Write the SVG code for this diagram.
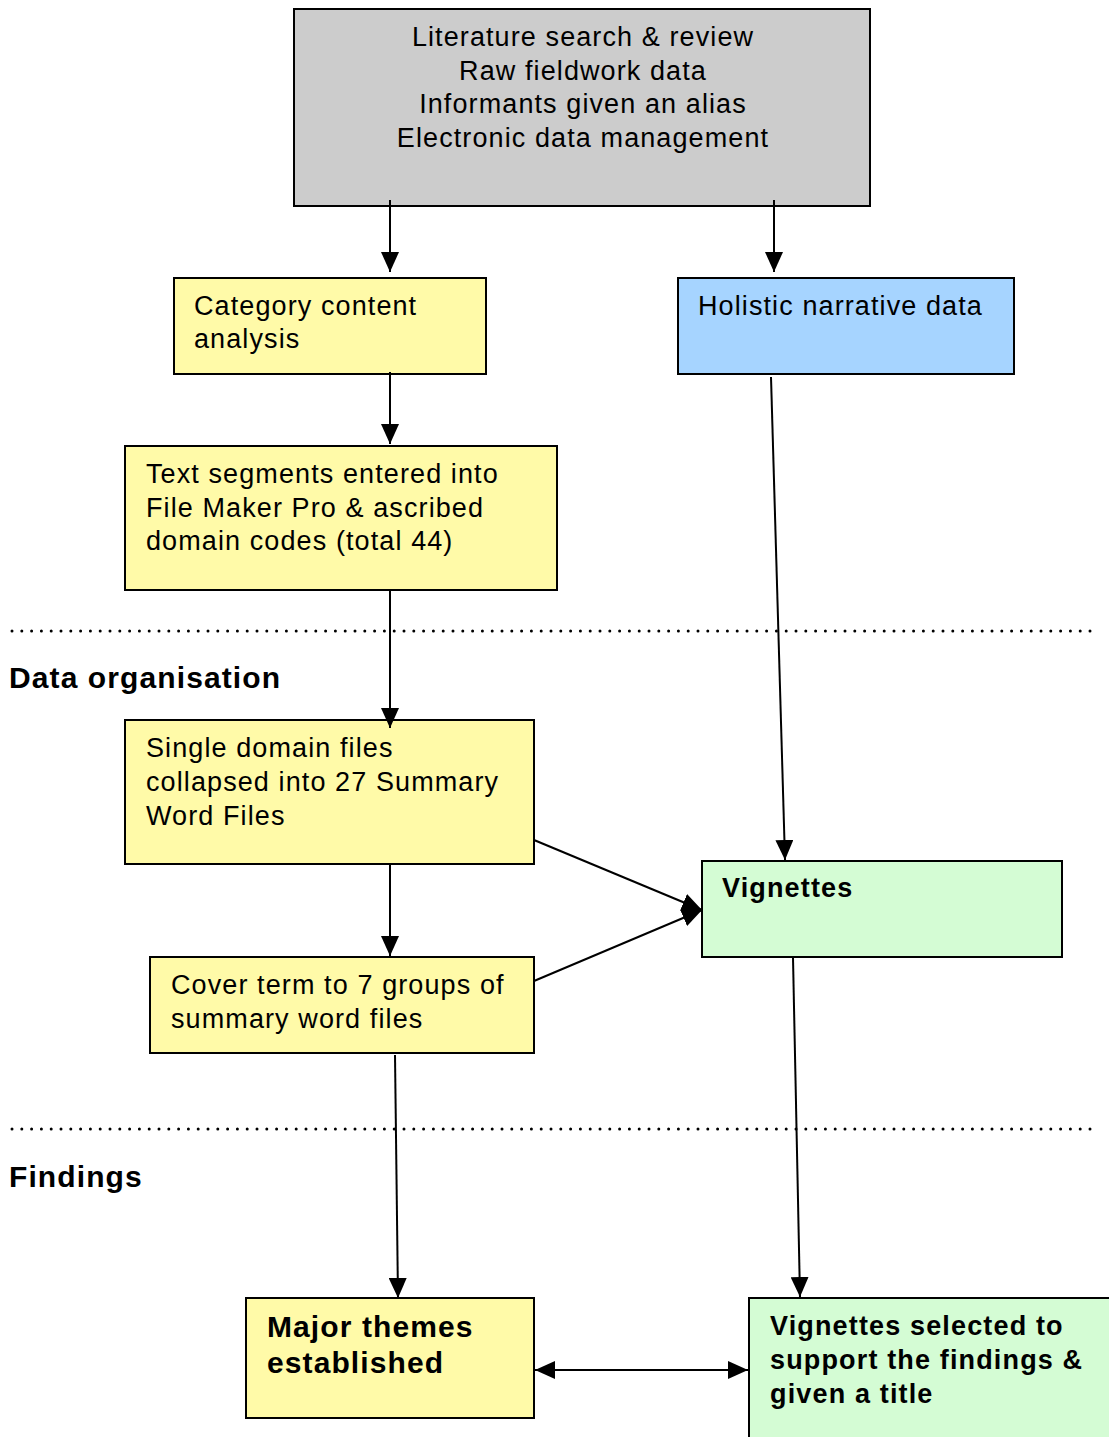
<svg xmlns="http://www.w3.org/2000/svg" width="1109" height="1437" viewBox="0 0 1109 1437">
  <style>
    .box { stroke: #000; stroke-width: 2; }
    .grey { fill: #cccccc; }
    .yellow { fill: #fffaa8; }
    .blue { fill: #a6d4ff; }
    .green { fill: #d4fcd4; }
    text { font-family: "Liberation Sans", Arial, sans-serif; font-size: 27px; letter-spacing: 1.1px; fill: #000; }
    .b { font-weight: bold; letter-spacing: 1.15px; }
    .big { font-size: 30px; letter-spacing: 1.1px; }
    .edge { stroke: #000; stroke-width: 2; fill: none; }
    .dots { stroke: #000; stroke-width: 3; stroke-dasharray: 0 9.8; stroke-linecap: round; }
  </style>
  <defs>
    <marker id="ah" viewBox="0 0 20 18" refX="20" refY="9" markerWidth="20" markerHeight="18" markerUnits="userSpaceOnUse" orient="auto-start-reverse">
      <path d="M0,0 L20,9 L0,18 z" fill="#000"/>
    </marker>
  </defs>

  <!-- section separators and headings -->
  <line class="dots" x1="12" y1="631" x2="1095" y2="631"/>
  <line class="dots" x1="12" y1="1129" x2="1095" y2="1129"/>
  <text class="b big" x="9" y="688">Data organisation</text>
  <text class="b big" x="9" y="1187">Findings</text>

  <g id="sources">
    <rect class="box grey" x="294" y="9" width="576" height="197"/>
    <text x="583" y="46" text-anchor="middle">Literature search &amp; review</text>
    <text x="583" y="80" text-anchor="middle">Raw fieldwork data</text>
    <text x="583" y="113" text-anchor="middle">Informants given an alias</text>
    <text x="583" y="147" text-anchor="middle">Electronic data management</text>
  </g>

  <g id="category">
    <rect class="box yellow" x="174" y="278" width="312" height="96"/>
    <text x="194" y="315">Category content</text>
    <text x="194" y="348">analysis</text>
  </g>

  <g id="holistic">
    <rect class="box blue" x="678" y="278" width="336" height="96"/>
    <text x="698" y="315">Holistic narrative data</text>
  </g>

  <g id="segments">
    <rect class="box yellow" x="125" y="446" width="432" height="144"/>
    <text x="146" y="483">Text segments entered into</text>
    <text x="146" y="517">File Maker Pro &amp; ascribed</text>
    <text x="146" y="550">domain codes (total 44)</text>
  </g>

  <g id="single-domain">
    <rect class="box yellow" x="125" y="720" width="409" height="144"/>
    <text x="146" y="757">Single domain files</text>
    <text x="146" y="791">collapsed into 27 Summary</text>
    <text x="146" y="825">Word Files</text>
  </g>

  <g id="vignettes">
    <rect class="box green" x="702" y="861" width="360" height="96"/>
    <text class="b" x="722" y="897">Vignettes</text>
  </g>

  <g id="cover-term">
    <rect class="box yellow" x="150" y="957" width="384" height="96"/>
    <text x="171" y="994">Cover term to 7 groups of</text>
    <text x="171" y="1028">summary word files</text>
  </g>

  <g id="major-themes">
    <rect class="box yellow" x="246" y="1298" width="288" height="120"/>
    <text class="b big" x="267" y="1337">Major themes</text>
    <text class="b big" x="267" y="1373">established</text>
  </g>

  <g id="vignettes-selected">
    <rect class="box green" x="749" y="1298" width="370" height="150"/>
    <text class="b" x="770" y="1335">Vignettes selected to</text>
    <text class="b" x="770" y="1369">support the findings &amp;</text>
    <text class="b" x="770" y="1403">given a title</text>
  </g>

  <g id="connectors">
    <line class="edge" x1="390" y1="200" x2="390" y2="272" marker-end="url(#ah)"/>
    <line class="edge" x1="774" y1="200" x2="774" y2="272" marker-end="url(#ah)"/>
    <line class="edge" x1="390" y1="372" x2="390" y2="444" marker-end="url(#ah)"/>
    <line class="edge" x1="390" y1="590" x2="390" y2="728" marker-end="url(#ah)"/>
    <line class="edge" x1="771" y1="377" x2="785" y2="860" marker-end="url(#ah)"/>
    <line class="edge" x1="534" y1="840" x2="702" y2="910" marker-end="url(#ah)"/>
    <line class="edge" x1="534" y1="981" x2="702" y2="910" marker-end="url(#ah)"/>
    <line class="edge" x1="390" y1="864" x2="390" y2="956" marker-end="url(#ah)"/>
    <line class="edge" x1="395" y1="1055" x2="398" y2="1298" marker-end="url(#ah)"/>
    <line class="edge" x1="793" y1="958" x2="800" y2="1297" marker-end="url(#ah)"/>
    <line class="edge" x1="535" y1="1370" x2="748" y2="1370" marker-start="url(#ah)" marker-end="url(#ah)"/>
  </g>
</svg>
